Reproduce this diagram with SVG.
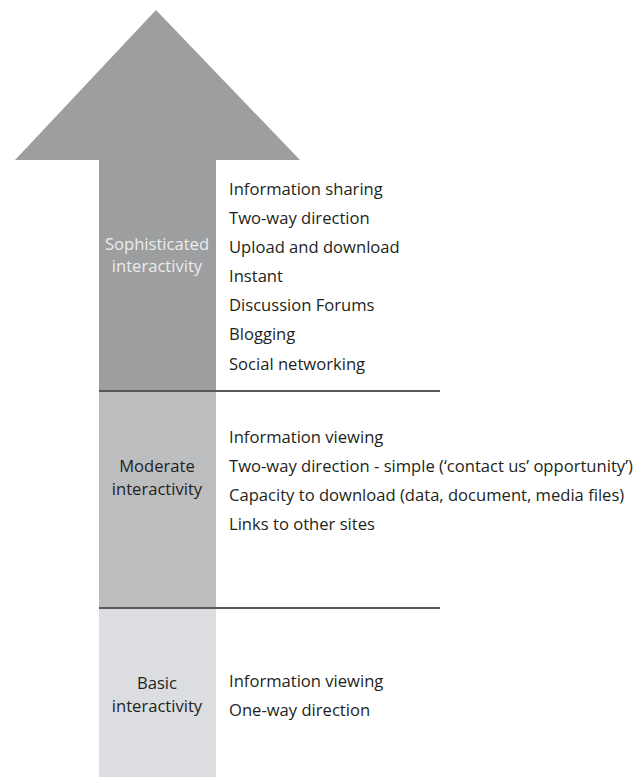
<svg xmlns="http://www.w3.org/2000/svg" width="641" height="777" viewBox="0 0 641 777">
<style>
.t{font-family:"Open Sans","Noto Sans","Liberation Sans",sans-serif;font-size:16.6px;fill:#231f20}
.c{text-anchor:middle}
.w{fill:#ececec}
.sep{stroke:#58595b;stroke-width:2;fill:none}
</style>
<rect width="641" height="777" fill="#fff"/>
<g id="arrow-top">
<polygon points="156,10 300,160 216,160 216,391 99,391 99,160 15,160" fill="#9d9ea0"/>
</g>
<g id="arrow-middle">
<rect x="99" y="391" width="117" height="217" fill="#bcbdbf"/>
</g>
<g id="arrow-bottom">
<rect x="99" y="608" width="117" height="169" fill="#dcdde0"/>
</g>
<g id="connectors">
<line class="sep" x1="99" y1="391" x2="440" y2="391"/>
<line class="sep" x1="99" y1="608" x2="440" y2="608"/>
</g>
<g id="sophisticated">
<text class="t c w" x="157" y="250">Sophisticated</text>
<text class="t c w" x="157" y="272">interactivity</text>
<text class="t" x="229" y="195">Information sharing</text>
<text class="t" x="229" y="224">Two-way direction</text>
<text class="t" x="229" y="253">Upload and download</text>
<text class="t" x="229" y="282">Instant</text>
<text class="t" x="229" y="311">Discussion Forums</text>
<text class="t" x="229" y="340">Blogging</text>
<text class="t" x="229" y="370">Social networking</text>
</g>
<g id="moderate">
<text class="t c" x="157" y="472">Moderate</text>
<text class="t c" x="157" y="495">interactivity</text>
<text class="t" x="229" y="443">Information viewing</text>
<text class="t" x="229" y="472">Two-way direction - simple (‘contact us’ opportunity’)</text>
<text class="t" x="229" y="501">Capacity to download (data, document, media files)</text>
<text class="t" x="229" y="530">Links to other sites</text>
</g>
<g id="basic">
<text class="t c" x="157" y="689">Basic</text>
<text class="t c" x="157" y="712">interactivity</text>
<text class="t" x="229" y="687">Information viewing</text>
<text class="t" x="229" y="716">One-way direction</text>
</g>
</svg>
